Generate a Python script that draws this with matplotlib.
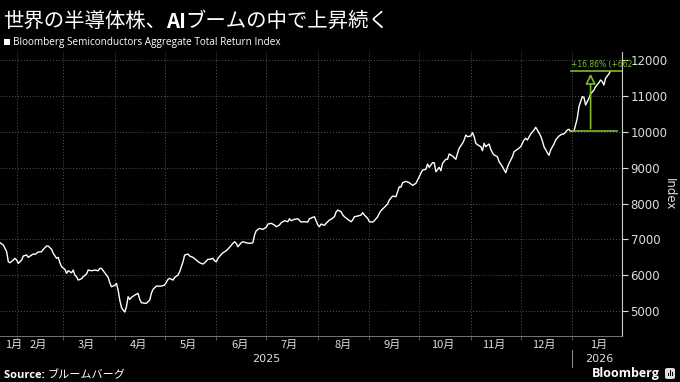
import pandas as pd
import matplotlib.pyplot as plt
import matplotlib.dates as mdates
from matplotlib.patches import Rectangle, FancyBboxPatch, FancyArrowPatch

JP = ["Noto Sans CJK JP", "DejaVu Sans"]
GREEN = "#7dbb2c"

# Bloomberg Semiconductors Aggregate Total Return Index
fechas = [
    "2025-01-22", "2025-01-24", "2025-01-26", "2025-01-27", "2025-01-28", "2025-01-30", "2025-01-31",
    "2025-02-01", "2025-02-02", "2025-02-04", "2025-02-05", "2025-02-07", "2025-02-08", "2025-02-10",
    "2025-02-11", "2025-02-12", "2025-02-14", "2025-02-16", "2025-02-17", "2025-02-19", "2025-02-20",
    "2025-02-22", "2025-02-23", "2025-02-25", "2025-02-26", "2025-02-27", "2025-02-28",
    "2025-03-02", "2025-03-03", "2025-03-04", "2025-03-06", "2025-03-07", "2025-03-08", "2025-03-09",
    "2025-03-10", "2025-03-12", "2025-03-13", "2025-03-15", "2025-03-16", "2025-03-18", "2025-03-20",
    "2025-03-22", "2025-03-23", "2025-03-24", "2025-03-26", "2025-03-28", "2025-03-29", "2025-03-30",
    "2025-04-01", "2025-04-02", "2025-04-03", "2025-04-04", "2025-04-05", "2025-04-06", "2025-04-07",
    "2025-04-08", "2025-04-09", "2025-04-10", "2025-04-11", "2025-04-13", "2025-04-15", "2025-04-16",
    "2025-04-17", "2025-04-20", "2025-04-22", "2025-04-23", "2025-04-24", "2025-04-26", "2025-04-29",
    "2025-05-01", "2025-05-03", "2025-05-04", "2025-05-06", "2025-05-07", "2025-05-09", "2025-05-10",
    "2025-05-12", "2025-05-13", "2025-05-15", "2025-05-16", "2025-05-18", "2025-05-20", "2025-05-22",
    "2025-05-24", "2025-05-25", "2025-05-27", "2025-05-28", "2025-05-30", "2025-05-31",
    "2025-06-01", "2025-06-02", "2025-06-04", "2025-06-05", "2025-06-07", "2025-06-09", "2025-06-11",
    "2025-06-12", "2025-06-13", "2025-06-14", "2025-06-16", "2025-06-17", "2025-06-19", "2025-06-21",
    "2025-06-23", "2025-06-24", "2025-06-25", "2025-06-27", "2025-06-29",
    "2025-07-01", "2025-07-02", "2025-07-04", "2025-07-06", "2025-07-07", "2025-07-09", "2025-07-10",
    "2025-07-12", "2025-07-14", "2025-07-15", "2025-07-16", "2025-07-18", "2025-07-20", "2025-07-22",
    "2025-07-24", "2025-07-26", "2025-07-27", "2025-07-29", "2025-07-30", "2025-07-31",
    "2025-08-01", "2025-08-02", "2025-08-03", "2025-08-05", "2025-08-06", "2025-08-08", "2025-08-09",
    "2025-08-11", "2025-08-12", "2025-08-13", "2025-08-15", "2025-08-16", "2025-08-17", "2025-08-19",
    "2025-08-21", "2025-08-22", "2025-08-23", "2025-08-25", "2025-08-27", "2025-08-28", "2025-08-29",
    "2025-08-31",
    "2025-09-01", "2025-09-03", "2025-09-04", "2025-09-06", "2025-09-07", "2025-09-08", "2025-09-10",
    "2025-09-12", "2025-09-13", "2025-09-15", "2025-09-17", "2025-09-18", "2025-09-19", "2025-09-20",
    "2025-09-21", "2025-09-23", "2025-09-25", "2025-09-27", "2025-09-29",
    "2025-10-01", "2025-10-03", "2025-10-05", "2025-10-06", "2025-10-07", "2025-10-09", "2025-10-10",
    "2025-10-11", "2025-10-13", "2025-10-14", "2025-10-15", "2025-10-17", "2025-10-18", "2025-10-19",
    "2025-10-21", "2025-10-23", "2025-10-24", "2025-10-25", "2025-10-27", "2025-10-28", "2025-10-29",
    "2025-10-30",
    "2025-11-01", "2025-11-02", "2025-11-03", "2025-11-04", "2025-11-05", "2025-11-07", "2025-11-08",
    "2025-11-09", "2025-11-10", "2025-11-12", "2025-11-13", "2025-11-14", "2025-11-15", "2025-11-17",
    "2025-11-18", "2025-11-19", "2025-11-20", "2025-11-22", "2025-11-23", "2025-11-24", "2025-11-26",
    "2025-11-27", "2025-11-29",
    "2025-12-01", "2025-12-03", "2025-12-04", "2025-12-05", "2025-12-07", "2025-12-09", "2025-12-10",
    "2025-12-11", "2025-12-13", "2025-12-14", "2025-12-15", "2025-12-17", "2025-12-18", "2025-12-19",
    "2025-12-21", "2025-12-22", "2025-12-24", "2025-12-26", "2025-12-27", "2025-12-29", "2025-12-30",
    "2025-12-31",
    "2026-01-02", "2026-01-04", "2026-01-05", "2026-01-07", "2026-01-08", "2026-01-09", "2026-01-11",
    "2026-01-12", "2026-01-13", "2026-01-14", "2026-01-15", "2026-01-17", "2026-01-18", "2026-01-19",
    "2026-01-20", "2026-01-21", "2026-01-23", "2026-01-24",
]
indice = [
    6908, 6844, 6657, 6377, 6350, 6425, 6472,
    6425, 6333, 6425, 6537, 6565, 6500, 6565,
    6593, 6584, 6648, 6657, 6724, 6816, 6816,
    6724, 6612, 6472, 6500, 6350, 6238,
    6165, 6054, 6126, 6070, 6146, 6006, 5959,
    5866, 5903, 5959, 6034, 6146, 6126, 6146,
    6126, 6193, 6193, 6070, 5942, 5791, 5679,
    5718, 5774, 5587, 5308, 5104, 5028, 4973,
    5121, 5400, 5327, 5383, 5447, 5495, 5327,
    5232, 5216, 5308, 5495, 5608, 5698, 5698,
    5727, 5886, 5914, 5866, 5942, 6006, 6098,
    6377, 6565, 6593, 6537, 6500, 6425, 6350,
    6313, 6350, 6445, 6445, 6472, 6405,
    6377, 6472, 6584, 6629, 6685, 6780, 6891,
    6936, 6891, 6796, 6908, 6936, 6908, 6891,
    6908, 7123, 7243, 7310, 7282,
    7338, 7430, 7450, 7403, 7355, 7403, 7467,
    7523, 7495, 7578, 7523, 7562, 7578, 7486,
    7495, 7486, 7578, 7618, 7634, 7523,
    7411, 7355, 7430, 7394, 7450, 7542, 7562,
    7634, 7766, 7821, 7774, 7690, 7634, 7562,
    7495, 7542, 7634, 7654, 7682, 7746, 7682,
    7590,
    7495, 7486, 7523, 7634, 7729, 7802, 7897,
    7989, 8101, 8212, 8193, 8333, 8472, 8460,
    8584, 8623, 8584, 8511, 8567,
    8752, 8939, 8958, 9106, 9014, 9143, 9143,
    8891, 9014, 8919, 9126, 9238, 9238, 9386,
    9330, 9238, 9405, 9545, 9684, 9777, 9916,
    9869,
    9888, 9980, 9869, 9684, 9645, 9589, 9478,
    9684, 9589, 9665, 9517, 9422, 9358, 9310,
    9170, 9106, 9031, 8863, 9014, 9126, 9310,
    9450, 9517,
    9589, 9777, 9824, 9777, 9944, 10056, 10131,
    10056, 9888, 9757, 9589, 9422, 9349, 9497,
    9665, 9777, 9888, 9944, 9944, 10056, 10075,
    10015,
    10020, 10383, 10707, 10986, 10969, 10754, 10941,
    11061, 11117, 11173, 11265, 11377, 11452, 11405,
    11313, 11500, 11620, 11703,
]

meses = ["1月", "2月", "3月", "4月", "5月", "6月", "7月", "8月", "9月", "10月", "11月", "12月", "1月"]
pos_meses = ["2025-01-30", "2025-02-14", "2025-03-15", "2025-04-15", "2025-05-15", "2025-06-15",
             "2025-07-15", "2025-08-16", "2025-09-15", "2025-10-15", "2025-11-15", "2025-12-15",
             "2026-01-17"]
anos = ["2025", "2026"]
pos_anos = ["2025-07-01", "2026-01-17"]
etiqueta_ganho = "+16.86% (+662"

df = pd.DataFrame({"Data": pd.to_datetime(fechas), "Indice": indice})

fig = plt.figure(figsize=(6.8, 3.82), dpi=100, facecolor="black")
ax = fig.add_axes([0, 0.12, 0.915, 0.744])
ax.set_facecolor("black")

ax.plot(df["Data"], df["Indice"], color="white", lw=1.0, zorder=3)

# eixos
x0 = pd.Timestamp("2025-01-22")
x1 = pd.Timestamp("2026-01-31")
ax.set_xlim(x0, x1)
ax.set_ylim(4300, 12235)

ax.yaxis.tick_right()
ax.set_yticks(range(5000, 12001, 1000))
ax.tick_params(axis="y", colors="#dddddd", labelsize=8.5, length=4, width=0.8, pad=2)
ax.yaxis.set_label_position("right")
ax.set_ylabel("Index", rotation=270, color="#dddddd", fontsize=8.5, labelpad=6)

inicios = pd.date_range("2025-02-01", "2026-01-01", freq="MS")
ax.set_xticks(inicios)
ax.set_xticklabels([])
ax.tick_params(axis="x", colors="#666666", length=3, width=0.6)
ax.set_xticks(pd.to_datetime(pos_meses), minor=True)
ax.set_xticklabels(meses, minor=True, fontfamily=JP, fontsize=8, color="#dddddd")
ax.tick_params(axis="x", which="minor", length=0, pad=3)

ax.grid(True, color="#555555", lw=0.7, linestyle=(0, (1, 2)))
for s in ["top", "left"]:
    ax.spines[s].set_visible(False)
ax.spines["right"].set_color("#cccccc")
ax.spines["bottom"].set_color("#888888")
ax.spines["bottom"].set_linewidth(0.6)

trans = ax.get_xaxis_transform()
for a, p in zip(anos, pos_anos):
    ax.text(pd.Timestamp(p), -0.063, a, transform=trans, ha="center", va="top",
            fontsize=8, color="#dddddd", clip_on=False)
ax.plot([pd.Timestamp("2026-01-01")] * 2, [-0.05, -0.11], transform=trans,
        color="#888888", lw=0.8, clip_on=False)

# anotacao verde
base_data = df["Data"].iloc[-19]
base = df["Indice"].iloc[-19]
topo = df["Indice"].iloc[-1]
meio = base_data + (df["Data"].iloc[-1] - base_data) / 2
ax.plot([base_data, pd.Timestamp("2026-01-28")], [base, base], color=GREEN, lw=1.2, zorder=4)
ax.plot([base_data, x1], [topo, topo], color=GREEN, lw=1.2, zorder=4)
seta = FancyArrowPatch((mdates.date2num(meio), base), (mdates.date2num(meio), topo),
                       arrowstyle="-|>,head_width=3,head_length=6", mutation_scale=1,
                       color=GREEN, fc="black", lw=1.2, zorder=5)
ax.add_patch(seta)
ax.text(base_data, topo + 60, etiqueta_ganho, color=GREEN, fontsize=5.5, va="bottom", ha="left")

# titulo
tit1 = fig.text(0.004, 0.943, "世界の半導体株、", fontfamily=JP, fontsize=14.7, color="white", va="center")
fig.canvas.draw()
r = fig.canvas.get_renderer()
bb = tit1.get_window_extent(r)
tit2 = fig.text(bb.x1 / 680, 0.943, "AI", fontfamily=JP, fontsize=14.7, color="white",
                va="center", fontweight="bold")
bb2 = tit2.get_window_extent(r)
fig.text(bb2.x1 / 680, 0.943, "ブームの中で上昇続く", fontfamily=JP, fontsize=14.7,
         color="white", va="center")

# legenda
fig.patches.append(Rectangle((4 / 680, 1 - 45 / 382), 6 / 680, 6 / 382, transform=fig.transFigure,
                             facecolor="white", edgecolor="none"))
fig.text(13 / 680, 1 - 42 / 382, "Bloomberg Semiconductors Aggregate Total Return Index",
         fontsize=7.2, color="white", va="center", fontfamily="Open Sans")

# rodape
src = fig.text(4 / 680, 1 - 375 / 382, "Source: ", fontsize=8, color="white", va="center",
               fontweight="bold", fontfamily="Open Sans")
bb3 = src.get_window_extent(r)
fig.text(bb3.x1 / 680, 1 - 375 / 382, "ブルームバーグ", fontsize=8, color="white", va="center",
         fontfamily=JP)
fig.text(660 / 680, 1 - 373 / 382, "Bloomberg", fontsize=9, color="white", va="center", ha="right",
         fontweight="bold", fontfamily="Open Sans")
fig.patches.append(FancyBboxPatch((665 / 680, 1 - 379 / 382), 10 / 680, 11 / 382,
                                  boxstyle="round,pad=0,rounding_size=0.004", transform=fig.transFigure,
                                  facecolor="#dddddd", edgecolor="none"))
for i, h in enumerate([3, 6, 4]):
    fig.patches.append(Rectangle(((667.5 + i * 2) / 680, 1 - 376 / 382), 1 / 680, h / 382,
                                 transform=fig.transFigure, facecolor="black", edgecolor="none"))

fig.savefig("out.png", dpi=100, facecolor="black")
